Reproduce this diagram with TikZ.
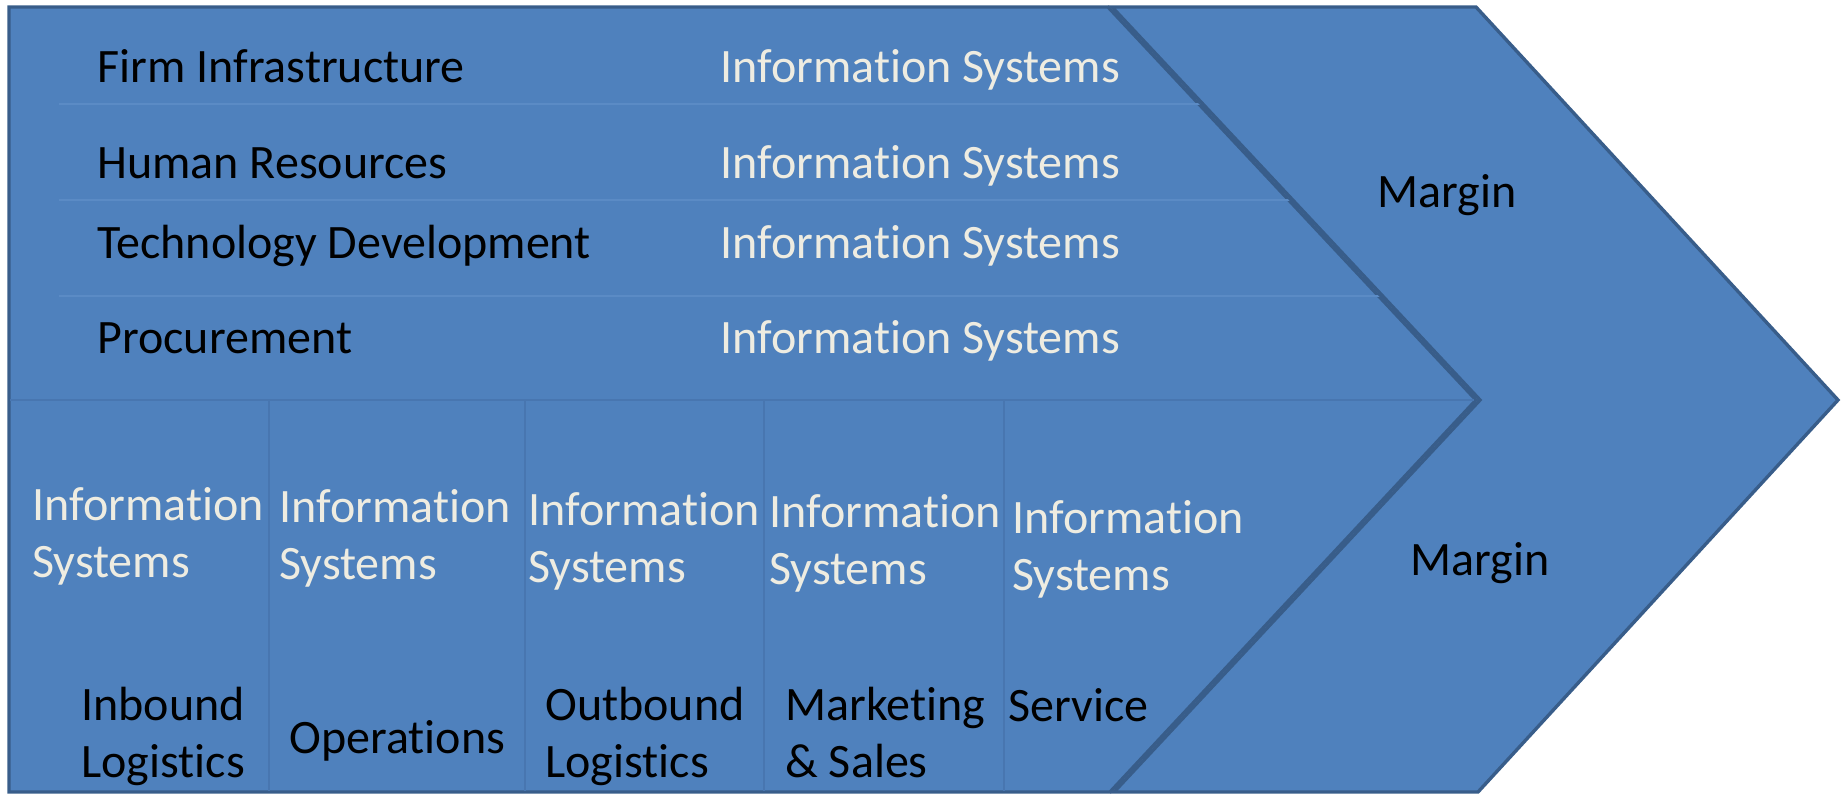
\documentclass[tikz,border=0pt]{standalone}
\usepackage{fontspec}
\setmainfont{Carlito}[Ligatures={NoCommon}]

\definecolor{chevfill}{HTML}{4F81BD}
\definecolor{chevline}{HTML}{385D8A}
\definecolor{islight}{HTML}{EEECE1}
\definecolor{rowsep}{HTML}{5B8BC5}
\definecolor{colsep}{HTML}{4876B0}

\begin{document}
\begin{tikzpicture}[
    x=0.5pt,
    y=-0.5pt,
    font=\fontsize{24pt}{28.3pt}\selectfont,
    block/.style={draw=chevline, line width=1.7pt, fill=chevfill},
    rowline/.style={draw=rowsep, line width=1pt},
    colline/.style={draw=colsep, line width=1.2pt},
    activity/.style={anchor=base west, inner sep=0pt, align=left, text=black},
    infosys/.style={activity, text=islight}
]

% page size in pixels
\useasboundingbox (0,0) rectangle (1846,794);

% parameters
\def\top{7}        % top edge
\def\bot{792}      % bottom edge
\def\mid{400}      % support / primary split
\def\tipx{1476}    % tip of the activity chevron
\def\shift{362}    % width of the margin chevron

% ---------------- Margin chevron (behind) ----------------
\draw[block] (1112,\top) -- (\tipx,\top) -- (\tipx+\shift,\mid)
    -- (1478,\bot) -- (1114,\bot) -- (\tipx+4,\mid) -- cycle;

% ---------------- Activity chevron ----------------
\draw[block] (9,\top) -- (1108,\top) -- (\tipx,\mid) -- (1110,\bot)
    -- (9,\bot) -- cycle;

% row lines of the support activities
\begin{scope}
    \clip (9,\top) -- (1108,\top) -- (\tipx,\mid) -- (9,\mid) -- cycle;
    \foreach \ry in {104,200,296}
        \draw[rowline] (59,\ry) -- (1500,\ry);
\end{scope}
\draw[colline] (10,\mid) -- (\tipx-2,\mid);

% column lines of the primary activities
\foreach \cx in {269,525,764,1004}
    \draw[colline] (\cx,\mid) -- (\cx,\bot-1);

% ---------------- Support activities ----------------
\node[activity] (firm)  at (97,82)  {Firm Infrastructure};
\node[activity] (human) at (97,178) {Human Resources};
\node[activity] (tech)  at (97,258) {Technology Development};
\node[activity] (proc)  at (97,353) {Procurement};

\foreach \name/\ry in {firm/82,human/178,tech/258,proc/353}
    \node[infosys] (is-\name) at (720,\ry) {Information Systems};

% ---------------- Primary activities ----------------
% two-line nodes sit on the baseline of their last line
\foreach \name/\ix/\iy in {inb/32/577,ops/279/579,outb/528/582,mkt/769/584,svc/1012/590}
    \node[infosys] (is-\name) at (\ix,\iy) {Information\\Systems};

\node[activity] (inb)  at (81,777)  {Inbound\\Logistics};
\node[activity] (ops)  at (289,753) {Operations};
\node[activity] (outb) at (545,777) {Outbound\\Logistics};
\node[activity] (mkt)  at (785,777) {Marketing\\\& Sales};
\node[activity] (svc)  at (1008,721) {Service};

% ---------------- Margin ----------------
\node[activity] (margin-up)  at (1377,207) {Margin};
\node[activity] (margin-low) at (1410,575) {Margin};

\end{tikzpicture}
\end{document}
